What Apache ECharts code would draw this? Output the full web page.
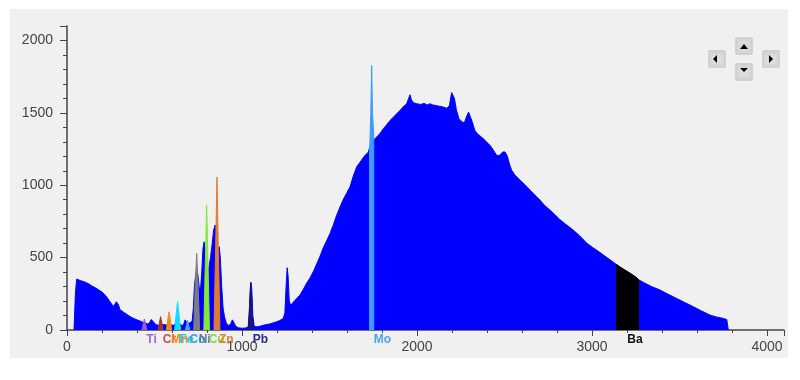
<!DOCTYPE html>
<html><head><meta charset="utf-8">
<script src="https://cdn.jsdelivr.net/npm/echarts@6/dist/echarts.min.js"></script>
<style>
html,body{margin:0;padding:0;background:#fff;}
#wrap{position:relative;width:800px;height:380px;}
#panel{position:absolute;left:10px;top:9px;width:778px;height:349px;background:#f0f0f0;}
#chart{position:absolute;left:0;top:0;width:800px;height:380px;}
</style>
</head><body>
<div id="wrap"><div id="panel"></div><div id="chart"></div></div>
<script>
// Spectrum continuum: [channel, counts]
const continuum = [
 [40,0],[48,250],[55,352],[62,350],[75,342],[90,336],[105,330],[112,326],[125,318],[140,306],[150,299],[165,290],[180,278],[189,268],[200,262],[215,245],[227,228],[240,205],[252,185],[265,162],[275,170],[282,195],[288,200],[294,175],[303,140],[315,130],[330,118],[341,108],[355,97],[370,86],[385,78],[400,70],[417,62],[430,55],[445,50],[460,42],[472,50],[480,72],[486,78],[493,58],[505,40],[520,32],
 [535,35],[550,38],[565,35],[575,40],[595,35],[610,32],[620,45],[632,55],[645,40],[660,30],[668,45],[675,70],[683,55],[695,45],[705,40],[715,60],[722,150],[728,300],[735,380],[741,420],[748,380],[755,300],[762,260],[770,400],[777,560],[783,609],[790,560],[797,420],[804,400],[812,440],[820,500],[830,600],[838,690],[846,724],[852,700],[858,600],[864,560],[870,575],[876,500],[884,300],[892,150],[900,90],[910,50],[920,30],[935,40],[945,70],[950,75],[956,60],[965,25],[980,15],[1000,12],[1020,14],[1035,20],[1042,120],[1048,300],[1052,326],[1056,280],[1062,100],[1070,25],[1085,22],[1100,25],[1120,32],[1140,38],[1160,42],[1180,50],[1198,57],[1215,65],[1236,80],[1245,120],[1252,300],[1258,430],[1263,380],[1270,200],[1278,170],[1293,192],[1310,215],[1331,241],[1350,280],[1370,325],[1389,360],[1410,410],[1430,465],[1446,510],[1465,570],[1485,620],[1503,667],[1520,720],[1540,790],[1560,850],[1580,905],[1600,950],[1617,988],[1635,1060],[1655,1126],[1675,1160],[1703,1207],[1720,1225],[1740,1300],[1770,1333],
 [1790,1360],[1808,1391],[1828,1420],[1846,1448],[1865,1470],[1885,1495],[1903,1517],[1920,1540],[1941,1563],[1952,1600],[1960,1625],[1968,1590],[1980,1570],[1998,1563],[2020,1558],[2040,1565],[2060,1555],[2074,1563],[2090,1555],[2110,1550],[2130,1545],[2150,1540],[2170,1532],[2185,1550],[2198,1640],[2206,1650],[2214,1600],[2225,1520],[2240,1460],[2255,1440],[2270,1430],[2285,1480],[2295,1505],[2305,1500],[2315,1440],[2330,1380],[2345,1355],[2360,1340],[2379,1322],[2400,1295],[2417,1276],[2435,1245],[2455,1207],[2470,1205],[2490,1230],[2503,1230],[2515,1205],[2530,1140],[2541,1103],[2560,1070],[2589,1034],[2620,1000],[2646,966],[2675,930],[2703,897],[2730,860],[2760,828],[2790,795],[2817,762],[2850,730],[2893,690],[2930,650],[2970,600],[3010,565],[3046,535],[3080,505],[3103,485],[3137,455],[3160,435],[3190,412],[3220,390],[3245,370],[3269,345],[3300,325],[3340,300],[3389,276],[3430,250],[3484,218],[3530,190],[3579,161],[3620,135],[3674,103],[3710,90],[3750,80],[3770,72],[3779,0]
];

// Element regions of interest (highlighted parts of the spectrum)
const roiTi = [[428,0],[436,45],[442,76],[448,45],[456,0]];
const roiCr = [[521,0],[529,55],[535,92],[541,55],[549,0]];
const roiMn = [[568,0],[576,75],[583,126],[590,75],[598,0]];
const roiFe = [[615,0],[624,110],[632,195],[640,110],[649,0]];
const roiCo = [[677,0],[684,40],[689,69],[694,40],[701,0]];
const roiNi = [[724,0],[732,280],[741,530],[750,280],[758,0]];
const roiCu = [[782,0],[790,450],[798,862],[806,450],[814,0]];
const roiZn = [[840,0],[849,550],[857,1057],[865,550],[874,0]];
const roiPb = [[1036,0],[1044,190],[1050,329],[1056,190],[1064,0]];
const roiMo = [[1729,0],[1729,1230],[1736,1500],[1741,1828],[1746,1500],[1753,1340],[1753,0]];
const roiBa = [[3137,455],[3160,435],[3190,412],[3220,390],[3245,370],[3269,345]];

const elementNames   = ['Ti','Cr','Mn','Fe','Co','Ni','Cu','Zn','Pb','Mo','Ba'];
const elementColors  = ['#9b5bd6','#a8332b','#f28a1a','#12dcff','#3aa8ff','#7d7d7d','#86e832','#e07a30','#16167e','#3d9bff','#000000'];
const labelColors    = ['#9a66dd','#c0504d','#f0881e','#1ad1f0','#3a9ee0','#5f7fa8','#8ed44a','#e08030','#2b2b8c','#4aa3f0','#111111'];
const labelChannels  = [442,535,583,632,689,741,798,857,1050,1741,3190];
const roiList = [roiTi,roiCr,roiMn,roiFe,roiCo,roiNi,roiCu,roiZn,roiPb,roiMo,roiBa];

const xTickLabels = ['0','1000','2000','3000','4000'];
const yTickLabels = ['0','500','1000','1500','2000'];

const series = [{
  type:'line', data: continuum, showSymbol:false, symbol:'none', sampling:null,
  lineStyle:{color:'#0000ff', width:1}, areaStyle:{color:'#0000ff', opacity:1}, z:2, silent:true
}];
roiList.forEach((roi,i)=>{
  series.push({
    type:'line', data: roi, symbol:'none', showSymbol:false,
    lineStyle:{color: elementColors[i], width: 1},
    areaStyle:{color: elementColors[i], opacity:1}, z:3, silent:true
  });
});
series.push({
  type:'custom', silent:true, z:10, clip:false,
  data: elementNames.map((n,i)=>[labelChannels[i],0,i]),
  renderItem:(params, api)=>{
    const i = api.value(2);
    const p = api.coord([api.value(0), api.value(1)]);
    return {type:'text', x:p[0]+2, y:p[1]+10, style:{
      text: elementNames[i], fill: labelColors[i],
      font:'bold 12px "Liberation Sans", Arial, sans-serif',
      align:'left', verticalAlign:'middle'}};
  }
});

function button(x,y,tri){
  return {type:'group', children:[
    {type:'rect', shape:{x:x,y:y,width:16,height:16}, style:{fill:'#e4e4e4', stroke:'#b8b8b8', lineWidth:1}},
    {type:'rect', shape:{x:x+2,y:y+2,width:12,height:12}, style:{fill:'#dcdcdc', stroke:'#cccccc', lineWidth:1}},
    {type:'polygon', shape:{points:tri}, style:{fill:'#000'}}
  ]};
}

const chart = echarts.init(document.getElementById('chart'), null, {renderer:'canvas'});
const axisCommon = {
  type:'value', splitLine:{show:false}, minorSplitLine:{show:false},
  axisLine:{show:true, onZero:false, lineStyle:{color:'#444', width:1.5}}
};
chart.setOption({
  animation:false,
  grid:{left:67, top:26, width:716.8, height:304, containLabel:false},
  xAxis: Object.assign({}, axisCommon, {
    min:0, max:4096, interval:1000,
    axisTick:{show:true, length:6, lineStyle:{color:'#444'}},
    minorTick:{show:true, splitNumber:5, length:3, lineStyle:{color:'#444'}},
    axisLabel:{margin:10, fontSize:14, color:'#444', showMaxLabel:false,
      fontFamily:'Liberation Sans, Arial, sans-serif',
      formatter:(v)=> xTickLabels[Math.round(v/1000)] || ''}
  }),
  yAxis: Object.assign({}, axisCommon, {
    min:0, max:2100, interval:500,
    axisTick:{show:true, length:7, lineStyle:{color:'#444'}},
    minorTick:{show:true, splitNumber:5, length:4, lineStyle:{color:'#444'}},
    axisLabel:{margin:14, fontSize:14, color:'#444', showMaxLabel:false,
      fontFamily:'Liberation Sans, Arial, sans-serif',
      formatter:(v)=> yTickLabels[Math.round(v/500)] || ''}
  }),
  graphic:[
    button(736,38,[[740,49],[748,49],[744,44]]),
    button(709,51,[[713,59],[717,55],[717,63]]),
    button(763,51,[[769,55],[769,63],[773,59]]),
    button(736,64,[[740,68],[748,68],[744,72]])
  ],
  series: series
});
</script>
</body></html>
